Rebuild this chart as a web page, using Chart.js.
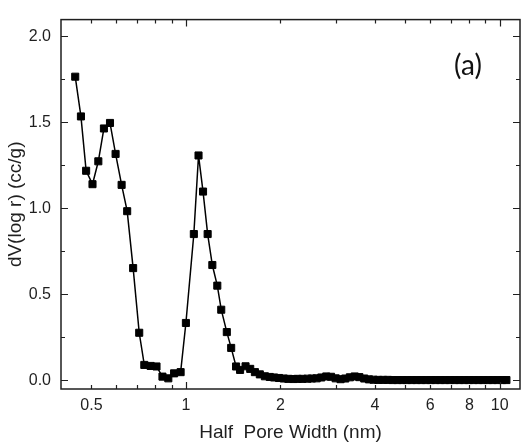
<!DOCTYPE html>
<html>
<head>
<meta charset="utf-8">
<script src="https://cdn.jsdelivr.net/npm/chart.js@4.4.1/dist/chart.umd.min.js"></script>
<style>
  html, body { margin: 0; padding: 0; background: #fff; }
</style>
</head>
<body>
<canvas id="psdChart" width="526" height="446"></canvas>
<script>
// half pore width (nm)
const poreWidth = [
  0.444, 0.463, 0.481, 0.504, 0.526, 0.548, 0.573, 0.597, 0.624, 0.650,
  0.679, 0.710, 0.737, 0.772, 0.806, 0.842, 0.879, 0.917, 0.962, 1.000,
  1.060, 1.097, 1.134, 1.173, 1.214, 1.259, 1.296, 1.350, 1.394, 1.445,
  1.488, 1.549, 1.603, 1.659, 1.720, 1.785, 1.85, 1.91, 1.98, 2.05,
  2.12, 2.20, 2.27, 2.35, 2.44, 2.52, 2.61, 2.70, 2.80, 2.90,
  3.00, 3.11, 3.22, 3.33, 3.45, 3.57, 3.70, 3.83, 3.96, 4.10,
  4.25, 4.40, 4.56, 4.72, 4.89, 5.06, 5.24, 5.43, 5.62, 5.82,
  6.03, 6.24, 6.46, 6.69, 6.93, 7.18, 7.43, 7.70, 7.97, 8.25,
  8.55, 8.85, 9.17, 9.49, 9.83, 10.18, 10.50
];
// dV(log r) (cc/g)
const dVlogR = [
  1.765, 1.534, 1.218, 1.140, 1.273, 1.464, 1.496, 1.316, 1.136, 0.983,
  0.652, 0.276, 0.089, 0.083, 0.080, 0.021, 0.011, 0.040, 0.047, 0.333,
  0.850, 1.307, 1.097, 0.850, 0.670, 0.550, 0.410, 0.280, 0.188, 0.080,
  0.060, 0.081, 0.066, 0.047, 0.034, 0.023, 0.019, 0.016, 0.013, 0.010,
  0.008, 0.007, 0.008, 0.008, 0.009, 0.010, 0.011, 0.016, 0.022, 0.020,
  0.011, 0.006, 0.010, 0.017, 0.022, 0.018, 0.010, 0.005, 0.003, 0.002,
  0.002, 0.002, 0.001, 0.001, 0.001, 0.001, 0.001, 0.001, 0.001, 0.001,
  0.001, 0.001, 0.001, 0.001, 0.001, 0.001, 0.001, 0.001, 0.001, 0.001,
  0.001, 0.001, 0.001, 0.001, 0.001, 0.001, 0.001
];

const xLabelTicks = [0.5, 1, 2, 4, 6, 8, 10];
const xMajorTicks = [1, 10];
const xMinorTicks = [0.5, 0.6, 0.7, 0.8, 0.9, 2, 3, 4, 5, 6, 7, 8, 9];
const yMajorTicks = [0, 0.5, 1.0, 1.5, 2.0];
const yMinorTicks = [0.25, 0.75, 1.25, 1.75];

const FONT = '"Liberation Sans", Arial, sans-serif';
const INK = '#1f1f1f';

// frame with inward ticks on all four sides, plus the panel tag
const frameTicks = {
  id: 'frameTicks',
  afterDraw(chart) {
    const { ctx, chartArea: a, scales: { x, y } } = chart;
    ctx.save();
    ctx.strokeStyle = INK;
    ctx.lineWidth = 1.5;
    ctx.strokeRect(a.left, a.top, a.right - a.left, a.bottom - a.top);

    ctx.lineWidth = 1.2;
    const xTick = (vals, len) => vals.forEach(v => {
      const px = Math.round(x.getPixelForValue(v)) + 0.5;
      ctx.beginPath();
      ctx.moveTo(px, a.bottom); ctx.lineTo(px, a.bottom - len);
      ctx.moveTo(px, a.top); ctx.lineTo(px, a.top + len);
      ctx.stroke();
    });
    const yTick = (vals, len) => vals.forEach(v => {
      const py = Math.round(y.getPixelForValue(v)) + 0.5;
      ctx.beginPath();
      ctx.moveTo(a.left, py); ctx.lineTo(a.left + len, py);
      ctx.moveTo(a.right, py); ctx.lineTo(a.right - len, py);
      ctx.stroke();
    });
    xTick(xMajorTicks, 7);
    xTick(xMinorTicks, 4);
    yTick(yMajorTicks, 7);
    yTick(yMinorTicks, 4);

    ctx.fillStyle = '#111';
    ctx.font = '28px Lato, "Open Sans", sans-serif';
    ctx.textAlign = 'center';
    ctx.textBaseline = 'middle';
    ctx.fillText('(a)', a.right - 52, a.top + 46);
    ctx.restore();
  }
};

new Chart(document.getElementById('psdChart'), {
  type: 'line',
  data: {
    datasets: [{
      label: 'PSD',
      data: poreWidth.map((w, i) => ({ x: w, y: dVlogR[i] })),
      borderColor: '#000',
      borderWidth: 1.5,
      backgroundColor: '#000',
      pointStyle: 'rect',
      pointRadius: 5,
      pointBorderWidth: 1,
      pointBorderColor: '#000',
      pointBackgroundColor: '#000',
      tension: 0,
      fill: false
    }]
  },
  options: {
    responsive: false,
    animation: false,
    devicePixelRatio: 1,
    layout: { padding: { top: 11, right: 1, left: 0, bottom: 0 } },
    plugins: {
      legend: { display: false },
      tooltip: { enabled: false }
    },
    scales: {
      x: {
        type: 'logarithmic',
        min: 0.4,
        max: 11.6,
        grid: { display: false, drawTicks: false },
        border: { display: false },
        afterBuildTicks: s => { s.ticks = xLabelTicks.map(v => ({ value: v })); },
        afterFit: s => { s.height = 57; },
        ticks: {
          padding: 7,
          color: INK,
          font: { family: FONT, size: 16 },
          maxRotation: 0,
          autoSkip: false,
          callback: v => String(v)
        },
        title: {
          display: true,
          text: 'Half  Pore Width (nm)',
          color: INK,
          font: { family: FONT, size: 19 },
          padding: { top: 0, bottom: 2 }
        }
      },
      y: {
        min: -0.051,
        max: 2.097,
        grid: { display: false, drawTicks: false },
        border: { display: false },
        afterBuildTicks: s => { s.ticks = yMajorTicks.map(v => ({ value: v })); },
        afterFit: s => { s.width = 61; },
        ticks: {
          padding: 10,
          color: INK,
          font: { family: FONT, size: 16 },
          callback: v => v.toFixed(1)
        },
        title: {
          display: true,
          text: 'dV(log r) (cc/g)',
          color: INK,
          font: { family: FONT, size: 19 },
          padding: { top: 4, bottom: 0 }
        }
      }
    }
  },
  plugins: [frameTicks]
});
</script>
</body>
</html>
